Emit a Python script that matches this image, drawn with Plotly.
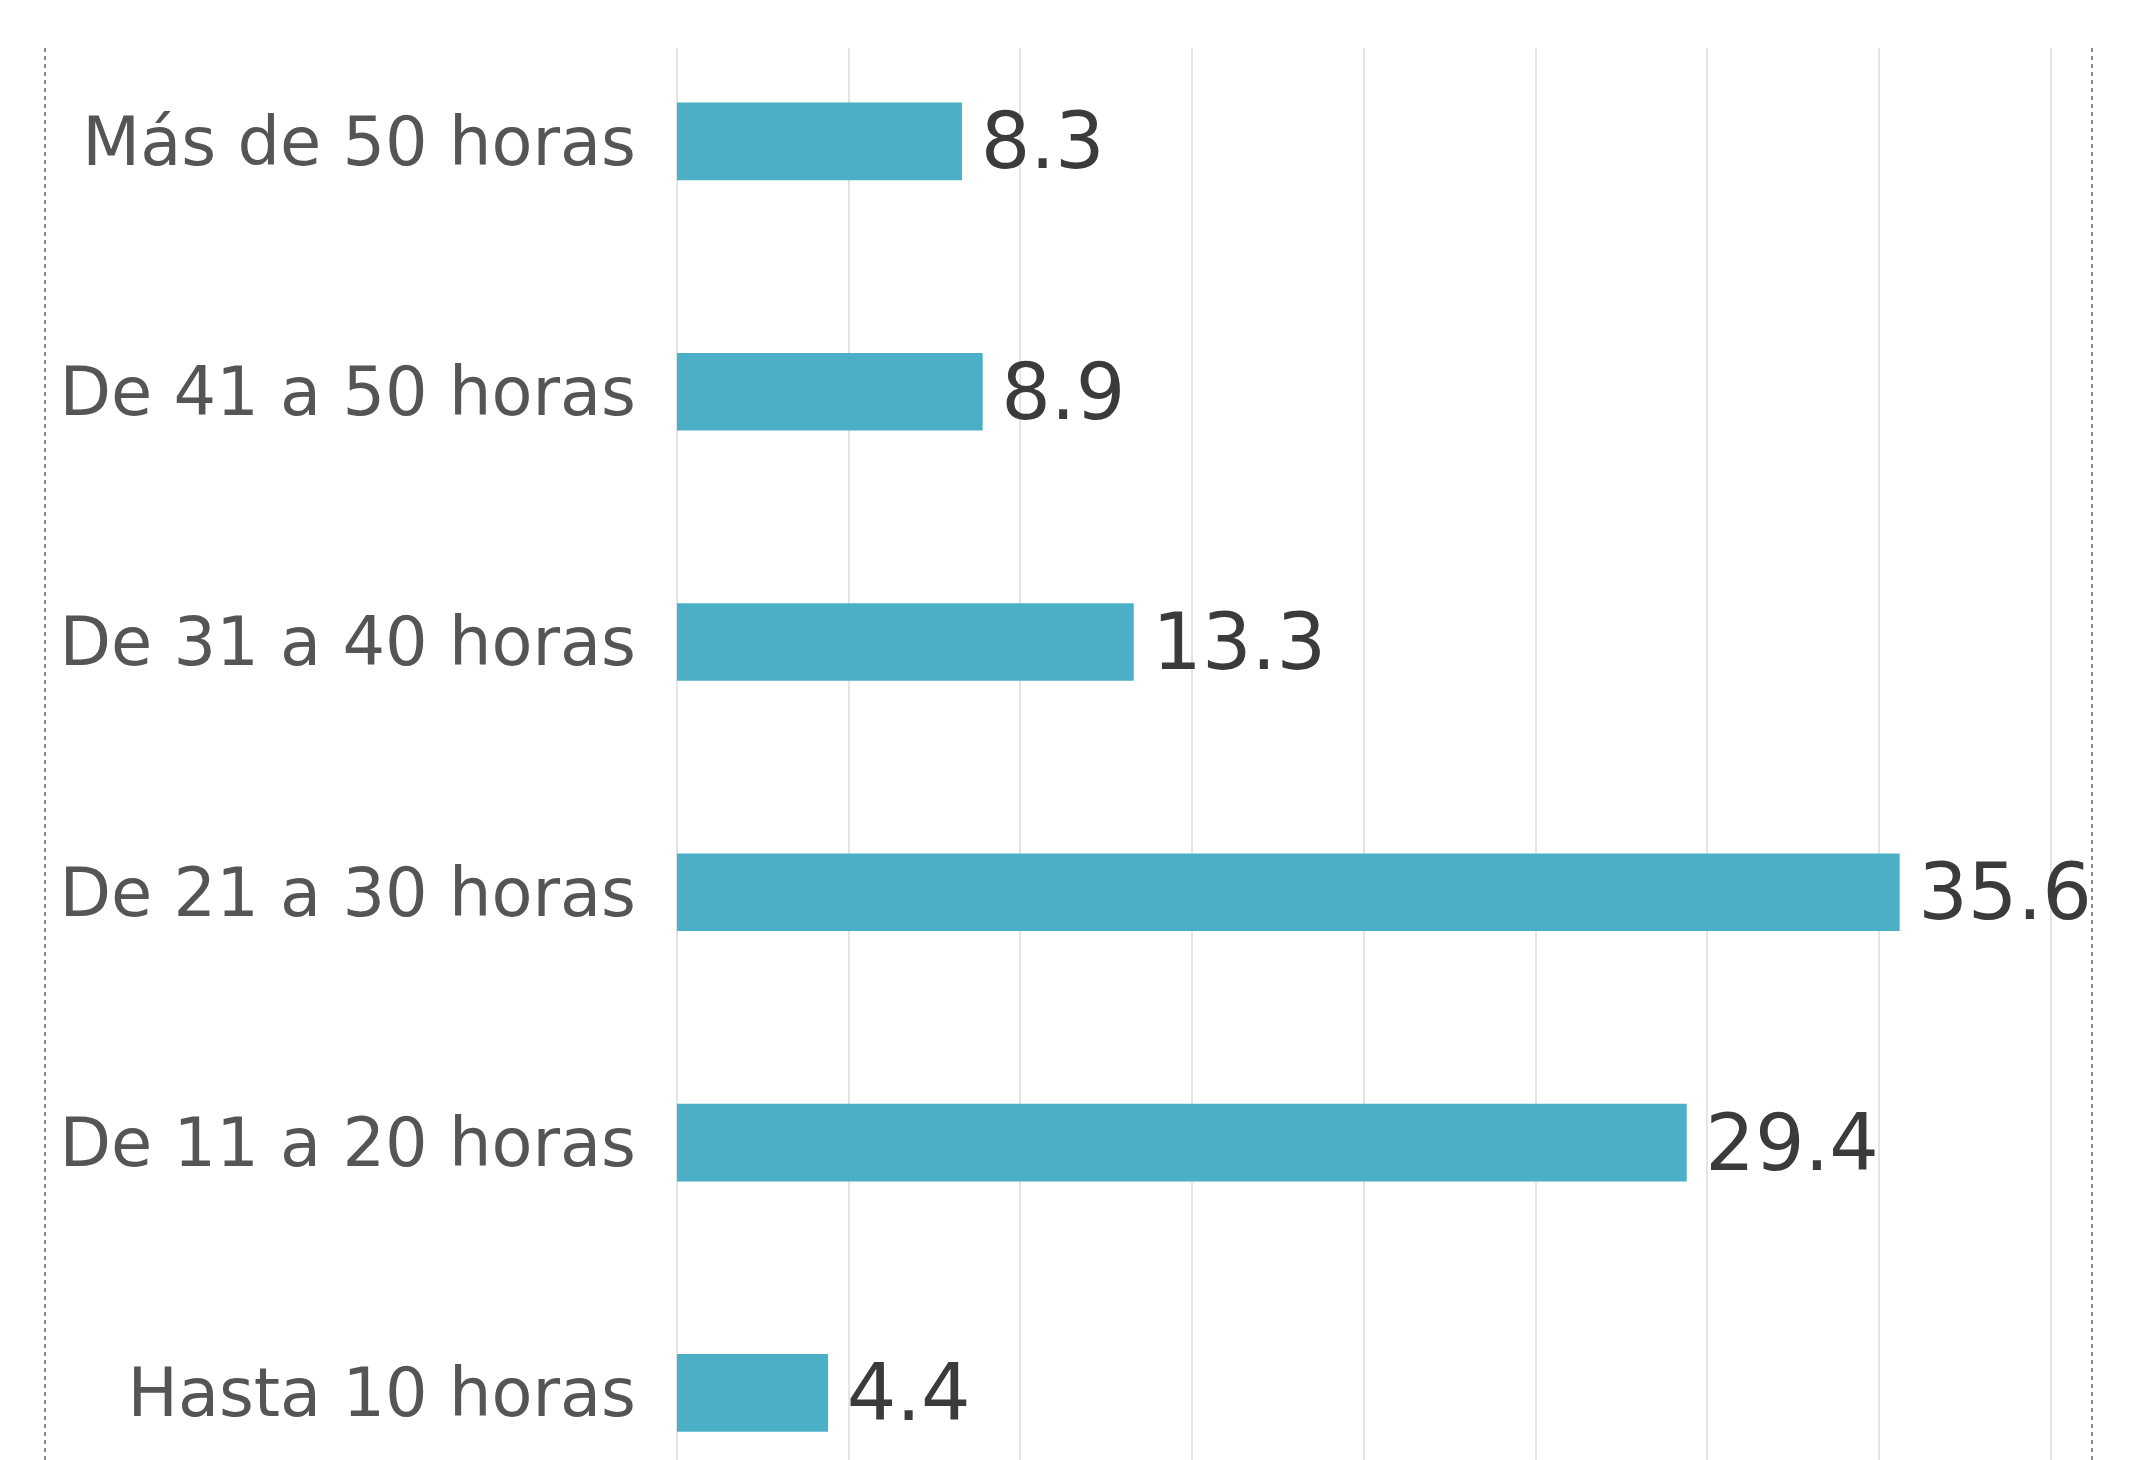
import plotly.graph_objects as go

categories = ["Hasta 10 horas", "De 11 a 20 horas", "De 21 a 30 horas",
              "De 31 a 40 horas", "De 41 a 50 horas", "Más de 50 horas"]
values = [4.4, 29.4, 35.6, 13.3, 8.9, 8.3]
labels = [f"{v:.1f}" for v in values]

# page body has an 8px default margin; compensate so the plot lands where the reference has it
W, H = 2136, 1452
L, R, T, B = 669, 52, 40, 0
plot_left_page = 8 + L
plot_right_page = 8 + W - R

fig = go.Figure()
fig.add_trace(go.Bar(
    y=list(range(len(categories))), x=values, orientation="h",
    width=0.31,
    marker=dict(color="#4BAFC6", line=dict(width=0)),
    text=["\u2009" + t for t in labels], textposition="outside",
    textfont=dict(family="DejaVu Sans", size=78, color="#3b3b3b"),
    constraintext="none",
    cliponaxis=False,
))

left_line_x = (45 - plot_left_page) / (plot_right_page - plot_left_page)

fig.update_layout(
    width=W, height=H,
    margin=dict(l=L, r=R, t=T, b=B, pad=0),
    paper_bgcolor="white", plot_bgcolor="white",
    showlegend=False,
    uniformtext=dict(mode=False),
    xaxis=dict(range=[0, 41.2], dtick=5, tick0=0, showgrid=True,
               gridcolor="#E4E4E4", gridwidth=2, showticklabels=False,
               zeroline=True, zerolinecolor="#E4E4E4", zerolinewidth=2,
               showline=False, ticks=""),
    yaxis=dict(range=[-0.268, 5.373], tickmode="array",
               tickvals=list(range(len(categories))), ticktext=categories,
               tickfont=dict(family="DejaVu Sans", size=67, color="#555555"),
               showgrid=False, zeroline=False, showline=False,
               ticks="", ticklabelstandoff=40, automargin=False),
    shapes=[
        dict(type="line", xref="paper", yref="paper",
             x0=left_line_x, x1=left_line_x, y0=0, y1=1,
             line=dict(color="#8c8c8c", width=2, dash="4px,4px")),
        dict(type="line", xref="paper", yref="paper",
             x0=1, x1=1, y0=0, y1=1,
             line=dict(color="#8c8c8c", width=2, dash="4px,4px")),
    ],
)

fig.write_html("out.html")
